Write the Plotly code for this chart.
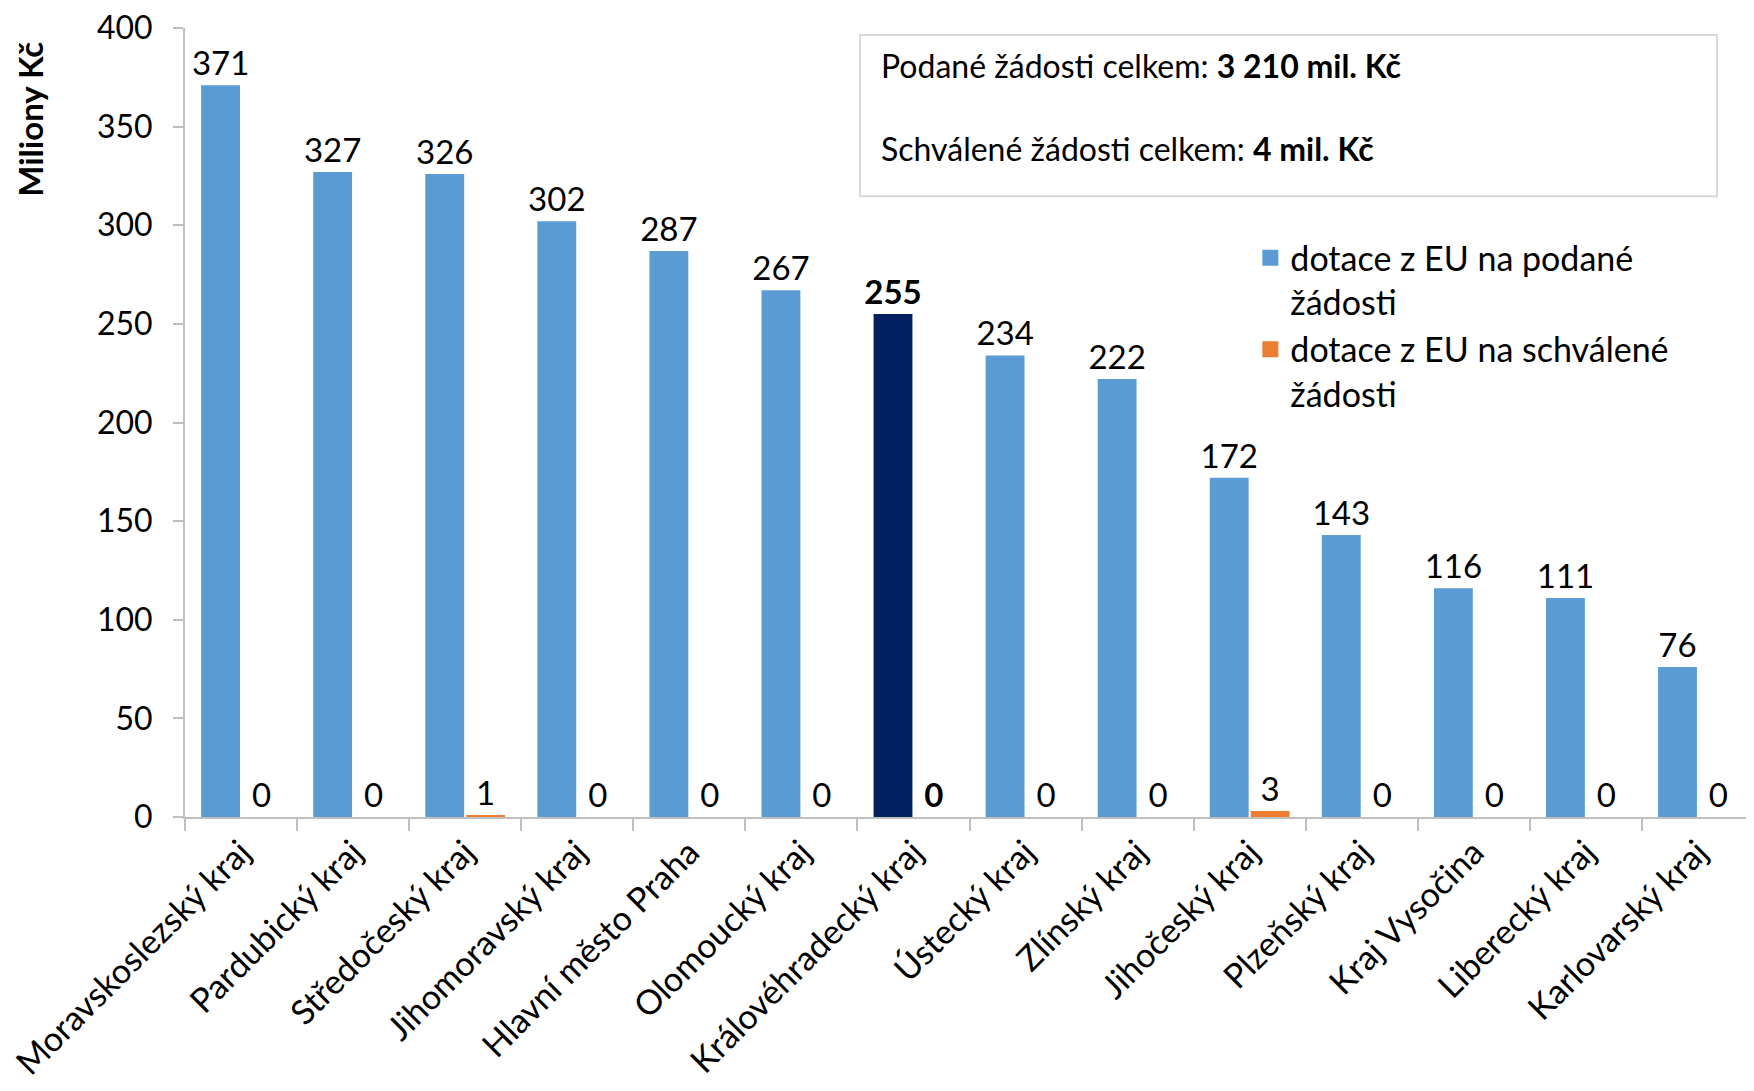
import plotly.graph_objects as go

categories = ["Moravskoslezský kraj", "Pardubický kraj", "Středočeský kraj", "Jihomoravský kraj",
              "Hlavní město Praha", "Olomoucký kraj", "Královéhradecký kraj", "Ústecký kraj",
              "Zlínský kraj", "Jihočeský kraj", "Plzeňský kraj", "Kraj Vysočina",
              "Liberecký kraj", "Karlovarský kraj"]
podane = [371, 327, 326, 302, 287, 267, 255, 234, 222, 172, 143, 116, 111, 76]
schvalene = [0, 0, 1, 0, 0, 0, 0, 0, 0, 3, 0, 0, 0, 0]
highlight = "Královéhradecký kraj"
series_names = ["dotace z EU na podané<br>žádosti", "dotace z EU na schválené<br>žádosti"]
y_ticks = [0, 50, 100, 150, 200, 250, 300, 350, 400]

FONT = "Lato, Carlito, Calibri, sans-serif"
BLUE = "#5B9BD5"
NAVY = "#002060"
ORANGE = "#ED7D31"
AXIS = "#BFBFBF"

blue_colors = [NAVY if c == highlight else BLUE for c in categories]
txt1 = [f"<b>{v}</b>" if c == highlight else str(v) for c, v in zip(categories, podane)]
txt2 = [f"<b>{v}</b>" if c == highlight else str(v) for c, v in zip(categories, schvalene)]

fig = go.Figure()
fig.add_trace(go.Bar(x=categories, y=podane, name=series_names[0],
                     marker=dict(color=blue_colors, line=dict(width=0)), showlegend=False,
                     text=txt1, textposition="outside", constraintext="none", cliponaxis=False,
                     textfont=dict(size=33, color="black", family=FONT)))
fig.add_trace(go.Bar(x=categories, y=schvalene, name=series_names[1],
                     marker=dict(color=ORANGE, line=dict(width=0)), showlegend=False,
                     text=txt2, textposition="outside", constraintext="none", cliponaxis=False,
                     textfont=dict(size=33, color="black", family=FONT)))
# legend entries (square swatches)
for nm, col in zip(series_names, [BLUE, ORANGE]):
    fig.add_trace(go.Scatter(x=[None], y=[None], mode="markers", name=nm,
                             marker=dict(symbol="square", size=21, color=col)))

fig.update_layout(
    width=1746, height=1083,
    margin=dict(l=177, r=0, t=20, b=274),
    paper_bgcolor="white", plot_bgcolor="white",
    font=dict(family=FONT, size=30, color="black"),
    barmode="group", bargap=0.27, bargroupgap=0.05,
    showlegend=True,
    legend=dict(x=0.679, y=0.745, xanchor="left", yanchor="top", valign="top",
                font=dict(size=34, family=FONT), bgcolor="rgba(0,0,0,0)", tracegroupgap=0,
                itemsizing="trace"),
    xaxis=dict(showline=True, linecolor=AXIS, linewidth=2, ticks="outside", tickson="boundaries",
               ticklen=12, tickcolor=AXIS, tickwidth=2, tickangle=-45, automargin=False,
               tickfont=dict(size=34, family=FONT), showgrid=False),
    yaxis=dict(range=[0, 400], tickvals=y_ticks, showline=True, linecolor=AXIS, linewidth=2,
               ticks="outside", ticklen=10, tickcolor=AXIS, tickwidth=2, showgrid=False,
               zeroline=False, automargin=False, ticklabelstandoff=14,
               ticklabeloverflow="allow", tickfont=dict(size=32, family=FONT)),
)

fig.add_annotation(text="<b>Miliony Kč</b>", xref="paper", yref="paper", x=-0.0988, y=0.885,
                   xanchor="center", yanchor="middle", textangle=-90, showarrow=False,
                   font=dict(size=33, family=FONT))

fig.add_shape(type="rect", xref="paper", yref="paper", x0=0.4302, x1=0.9764, y0=0.7866, y1=0.9912,
              line=dict(color="#D9D9D9", width=2), fillcolor="white", layer="below")
fig.add_annotation(text="Podané žádosti celkem: <b>3 210 mil. Kč</b>", xref="paper", yref="paper",
                   x=0.4423, y=0.952, xanchor="left", yanchor="middle", showarrow=False,
                   font=dict(size=32, family=FONT))
fig.add_annotation(text="Schválené žádosti celkem: <b>4 mil. Kč</b>", xref="paper", yref="paper",
                   x=0.4423, y=0.847, xanchor="left", yanchor="middle", showarrow=False,
                   font=dict(size=32, family=FONT))

fig.write_html("out.html")
